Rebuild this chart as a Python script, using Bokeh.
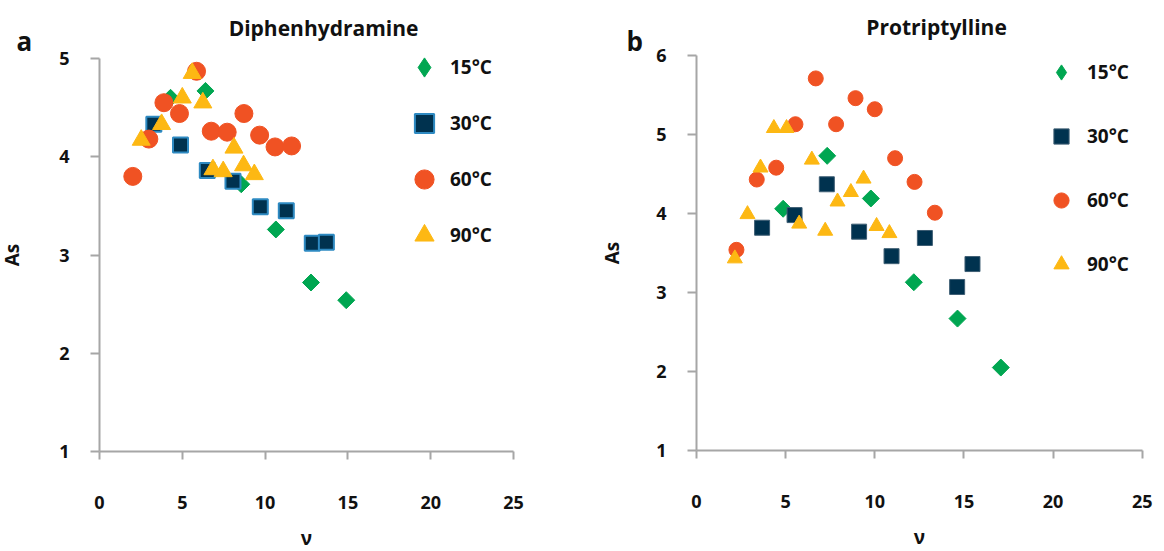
import math
from bokeh.plotting import figure
from bokeh.layouts import row
from bokeh.models import Range1d, FixedTicker, Legend, LegendItem, Label
from bokeh.embed import file_html
from bokeh.resources import INLINE

# ---- data: asymmetry factor (As) against reduced velocity (nu) ----
temps = ["15°C", "30°C", "60°C", "90°C"]

# Diphenhydramine
dph_15_x = [4.29, 6.40, 8.56, 10.65, 12.77, 14.90]
dph_15_y = [4.60, 4.67, 3.72, 3.26, 2.72, 2.54]
dph_30_x = [3.28, 4.89, 6.51, 8.06, 9.71, 11.28, 12.85, 13.70]
dph_30_y = [4.33, 4.12, 3.86, 3.75, 3.49, 3.45, 3.12, 3.13]
dph_60_x = [2.01, 2.98, 3.89, 4.83, 5.86, 6.75, 7.71, 8.72, 9.67, 10.60, 11.60]
dph_60_y = [3.80, 4.18, 4.55, 4.44, 4.87, 4.26, 4.25, 4.44, 4.22, 4.10, 4.11]
dph_90_x = [2.52, 3.75, 5.00, 5.60, 6.24, 6.85, 7.47, 8.12, 8.70, 9.35]
dph_90_y = [4.17, 4.33, 4.60, 4.85, 4.55, 3.87, 3.85, 4.09, 3.91, 3.82]

# Protriptylline
prt_15_x = [4.86, 7.33, 9.78, 12.19, 14.64, 17.07]
prt_15_y = [4.06, 4.73, 4.19, 3.13, 2.67, 2.05]
prt_30_x = [3.68, 5.50, 7.31, 9.12, 10.94, 12.81, 14.62, 15.48]
prt_30_y = [3.82, 3.98, 4.37, 3.77, 3.46, 3.69, 3.07, 3.36]
prt_60_x = [2.24, 3.38, 4.47, 5.55, 6.69, 7.83, 8.92, 10.00, 11.14, 12.23, 13.37]
prt_60_y = [3.54, 4.43, 4.58, 5.13, 5.71, 5.13, 5.46, 5.32, 4.70, 4.40, 4.01]
prt_90_x = [2.15, 2.86, 3.59, 4.34, 5.05, 5.76, 6.47, 7.22, 7.91, 8.66, 9.37, 10.10, 10.82]
prt_90_y = [3.43, 3.99, 4.58, 5.08, 5.08, 3.87, 4.68, 3.78, 4.15, 4.27, 4.44, 3.84, 3.75]

x_ticks = [0, 5, 10, 15, 20, 25]
dph_y_ticks = [1, 2, 3, 4, 5]
prt_y_ticks = [1, 2, 3, 4, 5, 6]

FONT = "Open Sans"
INK = "#111111"
AXIS_GREY = "#A6A6A6"
GREEN = "#00A651"
NAVY = "#00324F"
RED = "#F05223"
YELLOW = "#FDB813"

PANEL_W, PANEL_H = 582, 551


def x_span(lo_px, hi_px, lo_val, hi_val):
    """Range over the panel width with lo_val at lo_px and hi_val at hi_px (from the left)."""
    per_px = (hi_val - lo_val) / (hi_px - lo_px)
    return Range1d(lo_val - lo_px * per_px, lo_val + (PANEL_W - lo_px) * per_px)


def y_span(lo_px, hi_px, lo_val, hi_val):
    """Range over the panel height with lo_val at lo_px and hi_val at hi_px (from the top)."""
    per_px = (hi_val - lo_val) / (lo_px - hi_px)
    return Range1d(lo_val - (PANEL_H - lo_px) * per_px, lo_val + lo_px * per_px)


def make_panel(title, letter, yticks, series, plot_box, sizes, sq_edge, sq_edge_w,
               legend_box, legend_spacing, legend_corner, label_standoff,
               title_pos, letter_pos, ylab_standoff, xlab_standoff):
    x0_px, x1_px, ybot_px, ytop_px = plot_box
    ymin, ymax = yticks[0], yticks[-1]
    p = figure(width=PANEL_W, height=PANEL_H, output_backend="svg", toolbar_location=None,
               x_range=x_span(x0_px, x1_px, x_ticks[0], x_ticks[-1]),
               y_range=y_span(ybot_px, ytop_px, ymin, ymax),
               min_border=0, min_border_left=0, min_border_right=0,
               min_border_top=0, min_border_bottom=0)
    p.outline_line_color = None
    p.grid.grid_line_color = None
    p.background_fill_color = "white"
    p.border_fill_color = "white"

    # axes pinned to the data origin and limited to the tick span
    for ax, ticks, loc in ((p.xaxis[0], x_ticks, ymin), (p.yaxis[0], yticks, x_ticks[0])):
        ax.ticker = FixedTicker(ticks=ticks)
        ax.bounds = (ticks[0], ticks[-1])
        ax.fixed_location = loc
        ax.axis_line_color = AXIS_GREY
        ax.axis_line_width = 2
        ax.major_tick_line_color = AXIS_GREY
        ax.major_tick_line_width = 2
        ax.major_tick_in = 0
        ax.minor_tick_line_color = None
        ax.major_label_text_font = FONT
        ax.major_label_text_font_style = "bold"
        ax.major_label_text_font_size = "18px"
        ax.major_label_text_color = INK
        ax.axis_label_text_font = FONT
        ax.axis_label_text_font_style = "bold"
        ax.axis_label_text_font_size = "19px"
        ax.axis_label_text_color = INK
    p.xaxis.major_tick_out = 8
    p.yaxis.major_tick_out = 9
    p.xaxis.major_label_standoff = 36
    p.yaxis.major_label_standoff = 21
    p.xaxis.axis_label = "ν"
    p.yaxis.axis_label = "As"
    p.xaxis.axis_label_standoff = xlab_standoff
    p.yaxis.axis_label_standoff = ylab_standoff

    (x15, y15), (x30, y30), (x60, y60), (x90, y90) = series
    s_dia, s_sq, s_circ, s_tri = sizes

    # 15 °C: square turned 45° so it reads as an even diamond
    p.scatter(x15, y15, marker="square", angle=math.pi / 4, size=s_dia,
              fill_color=GREEN, line_color=GREEN, line_width=1)
    r30 = p.scatter(x30, y30, marker="square", size=s_sq,
                    fill_color=NAVY, line_color=sq_edge, line_width=sq_edge_w)
    r60 = p.scatter(x60, y60, marker="circle", size=s_circ,
                    fill_color=RED, line_color=RED, line_width=1)
    r90 = p.scatter(x90, y90, marker="triangle", size=s_tri,
                    fill_color=YELLOW, line_color=YELLOW, line_width=1)
    # key symbol for the 15 °C entry (legend glyphs are always drawn unrotated)
    k15 = p.scatter([float("nan")], [float("nan")], marker="diamond",
                    fill_color=GREEN, line_color=GREEN)

    legend = Legend(items=[LegendItem(label=temps[0], renderers=[k15]),
                           LegendItem(label=temps[1], renderers=[r30]),
                           LegendItem(label=temps[2], renderers=[r60]),
                           LegendItem(label=temps[3], renderers=[r90])],
                    location=(legend_corner[0], PANEL_H - legend_corner[1]),
                    orientation="vertical",
                    glyph_width=legend_box, glyph_height=legend_box,
                    label_height=legend_box, spacing=legend_spacing,
                    padding=0, margin=0, label_standoff=label_standoff,
                    border_line_color=None, background_fill_alpha=0,
                    label_text_font=FONT, label_text_font_style="bold",
                    label_text_font_size="19px", label_text_color=INK)
    p.add_layout(legend)

    p.add_layout(Label(x=title_pos[0], y=PANEL_H - title_pos[1], x_units="screen", y_units="screen",
                       text=title, text_font=FONT, text_font_style="bold",
                       text_font_size="21px", text_align="center",
                       text_baseline="alphabetic", text_color=INK))
    p.add_layout(Label(x=letter_pos[0], y=PANEL_H - letter_pos[1], x_units="screen", y_units="screen",
                       text=letter, text_font=FONT, text_font_style="bold",
                       text_font_size="26px", text_align="left",
                       text_baseline="alphabetic", text_color=INK))
    return p


p1 = make_panel("Diphenhydramine", "a", dph_y_ticks,
                [(dph_15_x, dph_15_y), (dph_30_x, dph_30_y),
                 (dph_60_x, dph_60_y), (dph_90_x, dph_90_y)],
                plot_box=(99, 513, 451, 58), sizes=(12, 15, 18, 18),
                sq_edge="#2E8AC2", sq_edge_w=2,
                legend_box=48, legend_spacing=8, legend_corner=(400, 259),
                label_standoff=2, title_pos=(323, 27), letter_pos=(16, 40),
                ylab_standoff=31, xlab_standoff=13)

p2 = make_panel("Protriptylline", "b", prt_y_ticks,
                [(prt_15_x, prt_15_y), (prt_30_x, prt_30_y),
                 (prt_60_x, prt_60_y), (prt_90_x, prt_90_y)],
                plot_box=(114, 559.7, 450, 55), sizes=(12, 15, 15, 15),
                sq_edge="#3E5E74", sq_edge_w=1,
                legend_box=38, legend_spacing=26, legend_corner=(460, 283),
                label_standoff=7, title_pos=(354, 26), letter_pos=(44, 40),
                ylab_standoff=28, xlab_standoff=13)

layout = row(p1, p2)
open("out.html", "w").write(file_html(layout, INLINE))
